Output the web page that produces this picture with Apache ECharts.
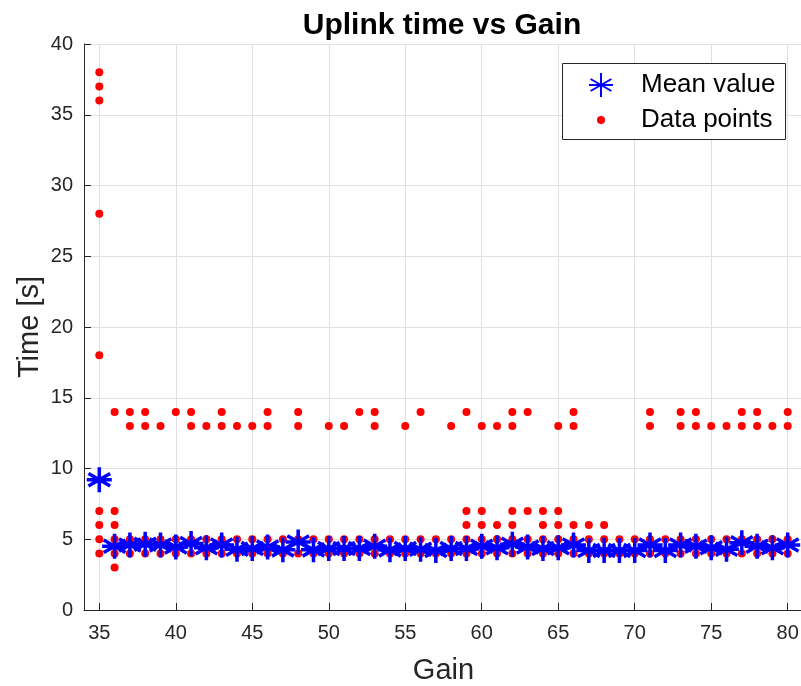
<!DOCTYPE html>
<html>
<head>
<meta charset="utf-8">
<script src="https://cdn.jsdelivr.net/npm/echarts@6/dist/echarts.min.js"></script>
<style>html,body{margin:0;padding:0;background:#fff}#c{width:801px;height:686px}</style>
</head>
<body>
<div id="c"></div>
<script>
const gains = [35,36,37,38,39,40,41,42,43,44,45,46,47,48,49,50,51,52,53,54,55,56,57,58,59,60,61,62,63,64,65,66,67,68,69,70,71,72,73,74,75,76,77,78,79,80];
const meanTime = [9.2,4.5,4.6,4.65,4.6,4.45,4.7,4.4,4.6,4.3,4.35,4.45,4.25,4.8,4.25,4.35,4.35,4.35,4.5,4.25,4.35,4.3,4.2,4.35,4.35,4.5,4.4,4.65,4.45,4.35,4.4,4.6,4.2,4.2,4.2,4.2,4.6,4.2,4.6,4.5,4.4,4.3,4.75,4.5,4.4,4.6];
const xTicks = [35,40,45,50,55,60,65,70,75,80];
const yTicks = [0,5,10,15,20,25,30,35,40];
// gains at which a data point is recorded at the given time level
const gainsAt3 = [36];
const gainsAt4 = gains;
const gainsAt5 = gains;
const gainsAt6 = [35,36,59,60,61,62,64,65,66,67,68];
const gainsAt7 = [35,36,59,60,62,63,64,65];
const gainsAt13 = [37,38,39,41,42,43,44,45,46,48,50,51,53,55,58,60,61,62,65,66,71,73,74,75,76,77,78,79,80];
const gainsAt14 = [36,37,38,40,41,43,46,48,52,53,56,59,62,63,66,71,73,74,77,78,80];
// outliers at gain 35
const outlierTimes35 = [18,28,36,37,38];

const levels = [[3,gainsAt3],[4,gainsAt4],[5,gainsAt5],[6,gainsAt6],[7,gainsAt7],[13,gainsAt13],[14,gainsAt14]];
const pointData = [];
levels.forEach(([t, gs]) => gs.forEach(g => pointData.push([g, t])));
outlierTimes35.forEach(t => pointData.push([35, t]));
const meanData = gains.map((g, i) => [g, meanTime[i]]);

const FONT = '"Liberation Sans", Arial, Helvetica, sans-serif';
const AX = '#262626';
const star = 'path://M0,-10L0,10M-8.7,-5L8.7,5M-8.7,5L8.7,-5M-10,0L10,0';

const chart = echarts.init(document.getElementById('c'), null, {renderer: 'canvas'});
chart.setOption({
  backgroundColor: '#fff',
  animation: false,
  textStyle: {fontFamily: FONT},
  title: {
    text: 'Uplink time vs Gain',
    left: 437, top: 6, textAlign: 'center',
    textStyle: {fontFamily: FONT, fontSize: 30, fontWeight: 'bold', color: '#000'}
  },
  grid: {left: 84, right: -2, top: 44, bottom: 76, containLabel: false, outerBoundsMode: 'none'},
  xAxis: {
    type: 'value', min: 34, max: 81,
    name: 'Gain', nameLocation: 'middle', nameGap: 46, nameMoveOverlap: false,
    nameTextStyle: {fontFamily: FONT, fontSize: 29, color: AX},
    axisLine: {show: true, onZero: false, lineStyle: {color: AX, width: 1}},
    axisTick: {show: true, inside: true, length: 7, customValues: xTicks, lineStyle: {color: AX}},
    axisLabel: {customValues: xTicks, margin: 13, fontFamily: FONT, fontSize: 20, color: AX},
    splitLine: {show: true, lineStyle: {color: '#e0e0e0', width: 1}}
  },
  yAxis: {
    type: 'value', min: 0, max: 40, interval: 5,
    name: 'Time [s]', nameLocation: 'middle', nameGap: 40, nameMoveOverlap: false,
    nameTextStyle: {fontFamily: FONT, fontSize: 29, color: AX},
    axisLine: {show: true, lineStyle: {color: AX, width: 1}},
    axisTick: {show: true, inside: true, length: 7, lineStyle: {color: AX}},
    axisLabel: {margin: 11, fontFamily: FONT, fontSize: 20, color: AX},
    splitLine: {show: true, lineStyle: {color: '#e0e0e0', width: 1}}
  },
  graphic: [{
    type: 'rect', left: 562, top: 63, z: 3,
    shape: {width: 223, height: 76},
    style: {fill: '#fff', stroke: AX, lineWidth: 1}
  }],
  legend: [{
    data: ['Mean value'], left: 588, top: 72, padding: 0, z: 5,
    itemWidth: 70, itemHeight: 24, symbolKeepAspect: true,
    textStyle: {fontFamily: FONT, fontSize: 26, color: '#000'}
  }, {
    data: ['Data points'], left: 597, top: 107, padding: 0, z: 5,
    itemWidth: 70, itemHeight: 8, symbolKeepAspect: true,
    textStyle: {fontFamily: FONT, fontSize: 26, color: '#000'}
  }],
  series: [{
    name: 'Data points', type: 'scatter', data: pointData,
    symbol: 'circle', symbolSize: 8,
    itemStyle: {color: '#ff0000', opacity: 1}, z: 2
  }, {
    name: 'Mean value', type: 'scatter', data: meanData,
    symbol: star, symbolSize: 25, symbolKeepAspect: true,
    itemStyle: {color: '#0000ff', borderColor: '#0000ff', borderWidth: 3.5, opacity: 1}, z: 3
  }]
});
</script>
</body>
</html>
